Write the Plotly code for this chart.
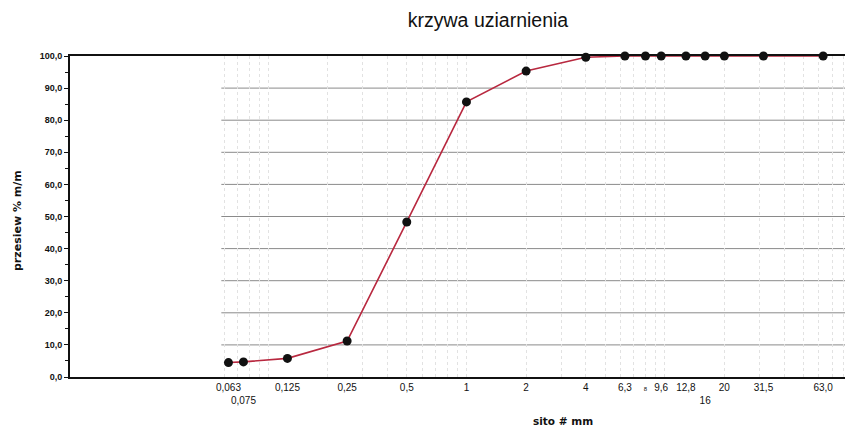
import plotly.graph_objects as go
import numpy as np

# --- data ---
sieve_mm = [0.063, 0.075, 0.125, 0.25, 0.5, 1, 2, 4, 6.3, 8, 9.6, 12.8, 16, 20, 31.5, 63]
passing_pct = [4.5, 4.7, 5.8, 11.2, 48.3, 85.7, 95.3, 99.6, 100, 100, 100, 100, 100, 100, 100, 100]
tick_labels = ["0,063", "<br>0,075", "0,125", "0,25", "0,5", "1", "2", "4", "6,3",
               "<span style='font-size:6px'>8</span>", "9,6", "12,8", "<br>16", "20", "31,5", "63,0"]
y_ticks = [0, 10, 20, 30, 40, 50, 60, 70, 80, 90, 100]
y_tick_labels = ["0,0", "10,0", "20,0", "30,0", "40,0", "50,0", "60,0", "70,0", "80,0", "90,0", "100,0"]

FONT = "Liberation Sans, Arial, sans-serif"
BOLDFONT = "DejaVu Sans, Verdana, sans-serif"

# minor log grid (1..9 x decades) starting at grid region
minor_vals = [m * 10.0 ** d for d in range(-2, 2) for m in range(1, 10)] + [100]
minor_vals = [v for v in minor_vals if v >= 0.06]
grid_left = 0.058

# page body has an 8px offset
OFF = 8
W, H = 853 - OFF, 427 - OFF
ML, MT, MB, MR = 70 - OFF, 56 - OFF, 50, 0
PLOT_H = H - MT - MB
PLOT_W = W - ML - MR

fig = go.Figure()
fig.add_trace(go.Scatter(
    x=sieve_mm, y=passing_pct, mode="lines+markers",
    line=dict(color="#b8283f", width=1.6),
    marker=dict(color="#111111", size=9),
    cliponaxis=False, showlegend=False,
))

shapes = []
for yv in y_ticks[1:-1]:
    shapes.append(dict(type="line", xref="x", yref="y", x0=grid_left, x1=100,
                       y0=yv, y1=yv, line=dict(color="#8a8a8a", width=1), layer="below"))

fig.update_layout(
    width=W, height=H,
    margin=dict(l=ML, r=MR, t=MT, b=MB),
    paper_bgcolor="white", plot_bgcolor="white",
    font=dict(family=FONT, color="#111111"),
    title=dict(text="krzywa uziarnienia", x=(488 - OFF) / W, xref="container", xanchor="center",
               y=1 - (20 - OFF) / H, yref="container", yanchor="middle",
               font=dict(size=19.5, family=FONT, color="#111111"), automargin=False),
    shapes=shapes,
    annotations=[
        dict(text="<b>sito # mm</b>", xref="paper", yref="paper", x=(563 - 70) / PLOT_W,
             y=(377 - 421) / PLOT_H, xanchor="center", yanchor="middle", showarrow=False,
             font=dict(size=10.5, family=BOLDFONT)),
        dict(text="<b>przesiew % m/m</b>", xref="paper", yref="paper", x=(18 - 70) / PLOT_W,
             y=(377 - 221) / PLOT_H, xanchor="center", yanchor="middle", textangle=-90,
             showarrow=False, font=dict(size=11, family=BOLDFONT)),
    ],
)

fig.update_xaxes(
    type="log", range=[-2, 1.95], automargin=False, tickangle=0,
    tickmode="array", tickvals=sieve_mm, ticktext=tick_labels,
    tickfont=dict(size=10, family=FONT, color="#111111"),
    ticks="", showgrid=False,
    minor=dict(tickmode="array", tickvals=minor_vals, showgrid=True,
               gridcolor="#e2e2e2", griddash="dot", gridwidth=1, ticks=""),
    showline=True, linecolor="#111111", linewidth=2, mirror=True,
    zeroline=False,
)
fig.update_yaxes(
    range=[0, 100], automargin=False,
    tickmode="array", tickvals=y_ticks, ticktext=["<b>%s</b>" % t for t in y_tick_labels],
    tickfont=dict(size=9, family=FONT, color="#111111"),
    ticks="outside", ticklen=4, tickcolor="#111111", tickwidth=1,
    minor=dict(dtick=5, ticks="outside", ticklen=3, tickcolor="#111111", showgrid=False),
    showgrid=False, showline=True, linecolor="#111111", linewidth=2,
    zeroline=False,
)

fig.write_html("out.html")
